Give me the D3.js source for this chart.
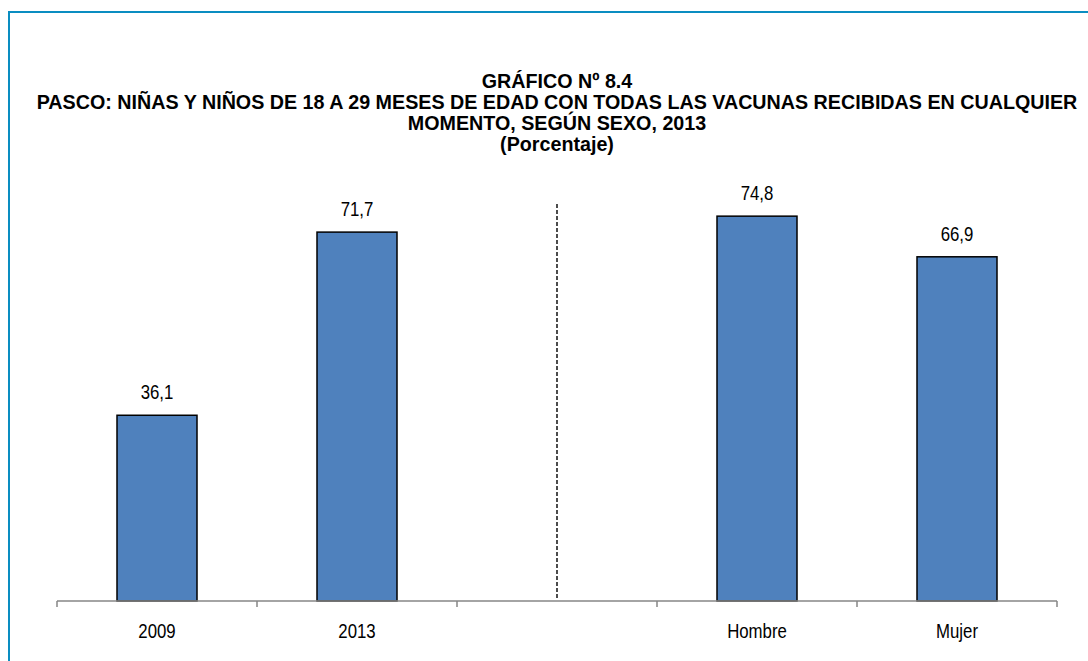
<!DOCTYPE html>
<html>
<head>
<meta charset="utf-8">
<script src="https://cdn.jsdelivr.net/npm/d3@7"></script>
<style>
  body { margin: 0; background: #ffffff; }
  text { font-family: "Liberation Sans", Arial, sans-serif; }
</style>
</head>
<body>
<svg></svg>
<script>
// categories and values
const categories = ["2009", "2013", "", "Hombre", "Mujer"];
const values = [36.1, 71.7, null, 74.8, 66.9];
const valueLabels = ["36,1", "71,7", "", "74,8", "66,9"];
const titleLines = [
    "GRÁFICO Nº 8.4",
    "PASCO: NIÑAS Y NIÑOS DE 18 A 29 MESES DE EDAD CON TODAS LAS VACUNAS RECIBIDAS EN CUALQUIER",
    "MOMENTO, SEGÚN SEXO, 2013",
    "(Porcentaje)"
];

const data = categories.map((c, i) => ({ idx: i, cat: c, value: values[i], label: valueLabels[i] }));

const width = 1088;
const height = 661;

// the source uses a narrow typeface: squeeze regular glyphs horizontally
const narrow = 0.8;

const svg = d3.select("svg")
    .attr("width", width)
    .attr("height", height);

// frame (top and left only)
svg.append("path")
    .attr("d", `M9,${height} L9,12 L${width},12`)
    .attr("fill", "none")
    .attr("stroke", "#0a8dc1")
    .attr("stroke-width", 2);

// titles
svg.append("g")
    .selectAll("text")
    .data(titleLines)
    .enter()
    .append("text")
    .attr("transform", (d, i) => `translate(557, ${88 + i * 21}) scale(0.985, 1)`)
    .attr("text-anchor", "middle")
    .style("font-size", "20px")
    .style("font-weight", "bold")
    .style("fill", "#000")
    .text(d => d);

const margin = { left: 57, right: 31 };

const x = d3.scaleBand()
    .domain(data.map(d => d.idx))
    .range([margin.left, width - margin.right])
    .paddingInner(0.6)
    .paddingOuter(0.3);

const y = d3.scaleLinear()
    .domain([0, 100])
    .range([601, 86.5]);

// bars
const bars = data.filter(d => d.value != null);

svg.append("g")
    .selectAll("rect")
    .data(bars)
    .enter()
    .append("rect")
    .attr("x", d => x(d.idx))
    .attr("y", d => y(d.value))
    .attr("width", x.bandwidth())
    .attr("height", d => y(0) - y(d.value))
    .attr("fill", "#4f81bd")
    .attr("stroke", "#000")
    .attr("stroke-width", 1.5);

// value labels
svg.append("g")
    .selectAll("text")
    .data(bars)
    .enter()
    .append("text")
    .attr("transform", d => `translate(${x(d.idx) + x.bandwidth() / 2}, ${y(d.value) - 16}) scale(${narrow}, 1)`)
    .attr("text-anchor", "middle")
    .style("font-size", "21px")
    .style("fill", "#000")
    .text(d => d.label);

// separator between year and sex groups
const sepX = x(2) + x.bandwidth() / 2;
svg.append("line")
    .attr("x1", sepX)
    .attr("x2", sepX)
    .attr("y1", 204)
    .attr("y2", 598)
    .attr("stroke", "#000")
    .attr("stroke-width", 1.4)
    .attr("stroke-dasharray", "4,2");

// x axis: ticks on band boundaries
const step = x.step();
const axisLeft = x(0) - (step - x.bandwidth()) / 2;
const boundaries = d3.range(categories.length + 1).map(i => axisLeft + i * step);

const axis = svg.append("g");
axis.append("line")
    .attr("x1", boundaries[0])
    .attr("x2", boundaries[boundaries.length - 1])
    .attr("y1", 601)
    .attr("y2", 601)
    .attr("stroke", "#868686")
    .attr("stroke-width", 1.5);

axis.selectAll(".tick")
    .data(boundaries)
    .enter()
    .append("line")
    .attr("x1", d => d)
    .attr("x2", d => d)
    .attr("y1", 601)
    .attr("y2", 607)
    .attr("stroke", "#868686")
    .attr("stroke-width", 1.5);

axis.selectAll(".lbl")
    .data(data)
    .enter()
    .append("text")
    .attr("transform", d => `translate(${x(d.idx) + x.bandwidth() / 2}, 638) scale(${narrow}, 1)`)
    .attr("text-anchor", "middle")
    .style("font-size", "21px")
    .style("fill", "#000")
    .text(d => d.cat);
</script>
</body>
</html>
